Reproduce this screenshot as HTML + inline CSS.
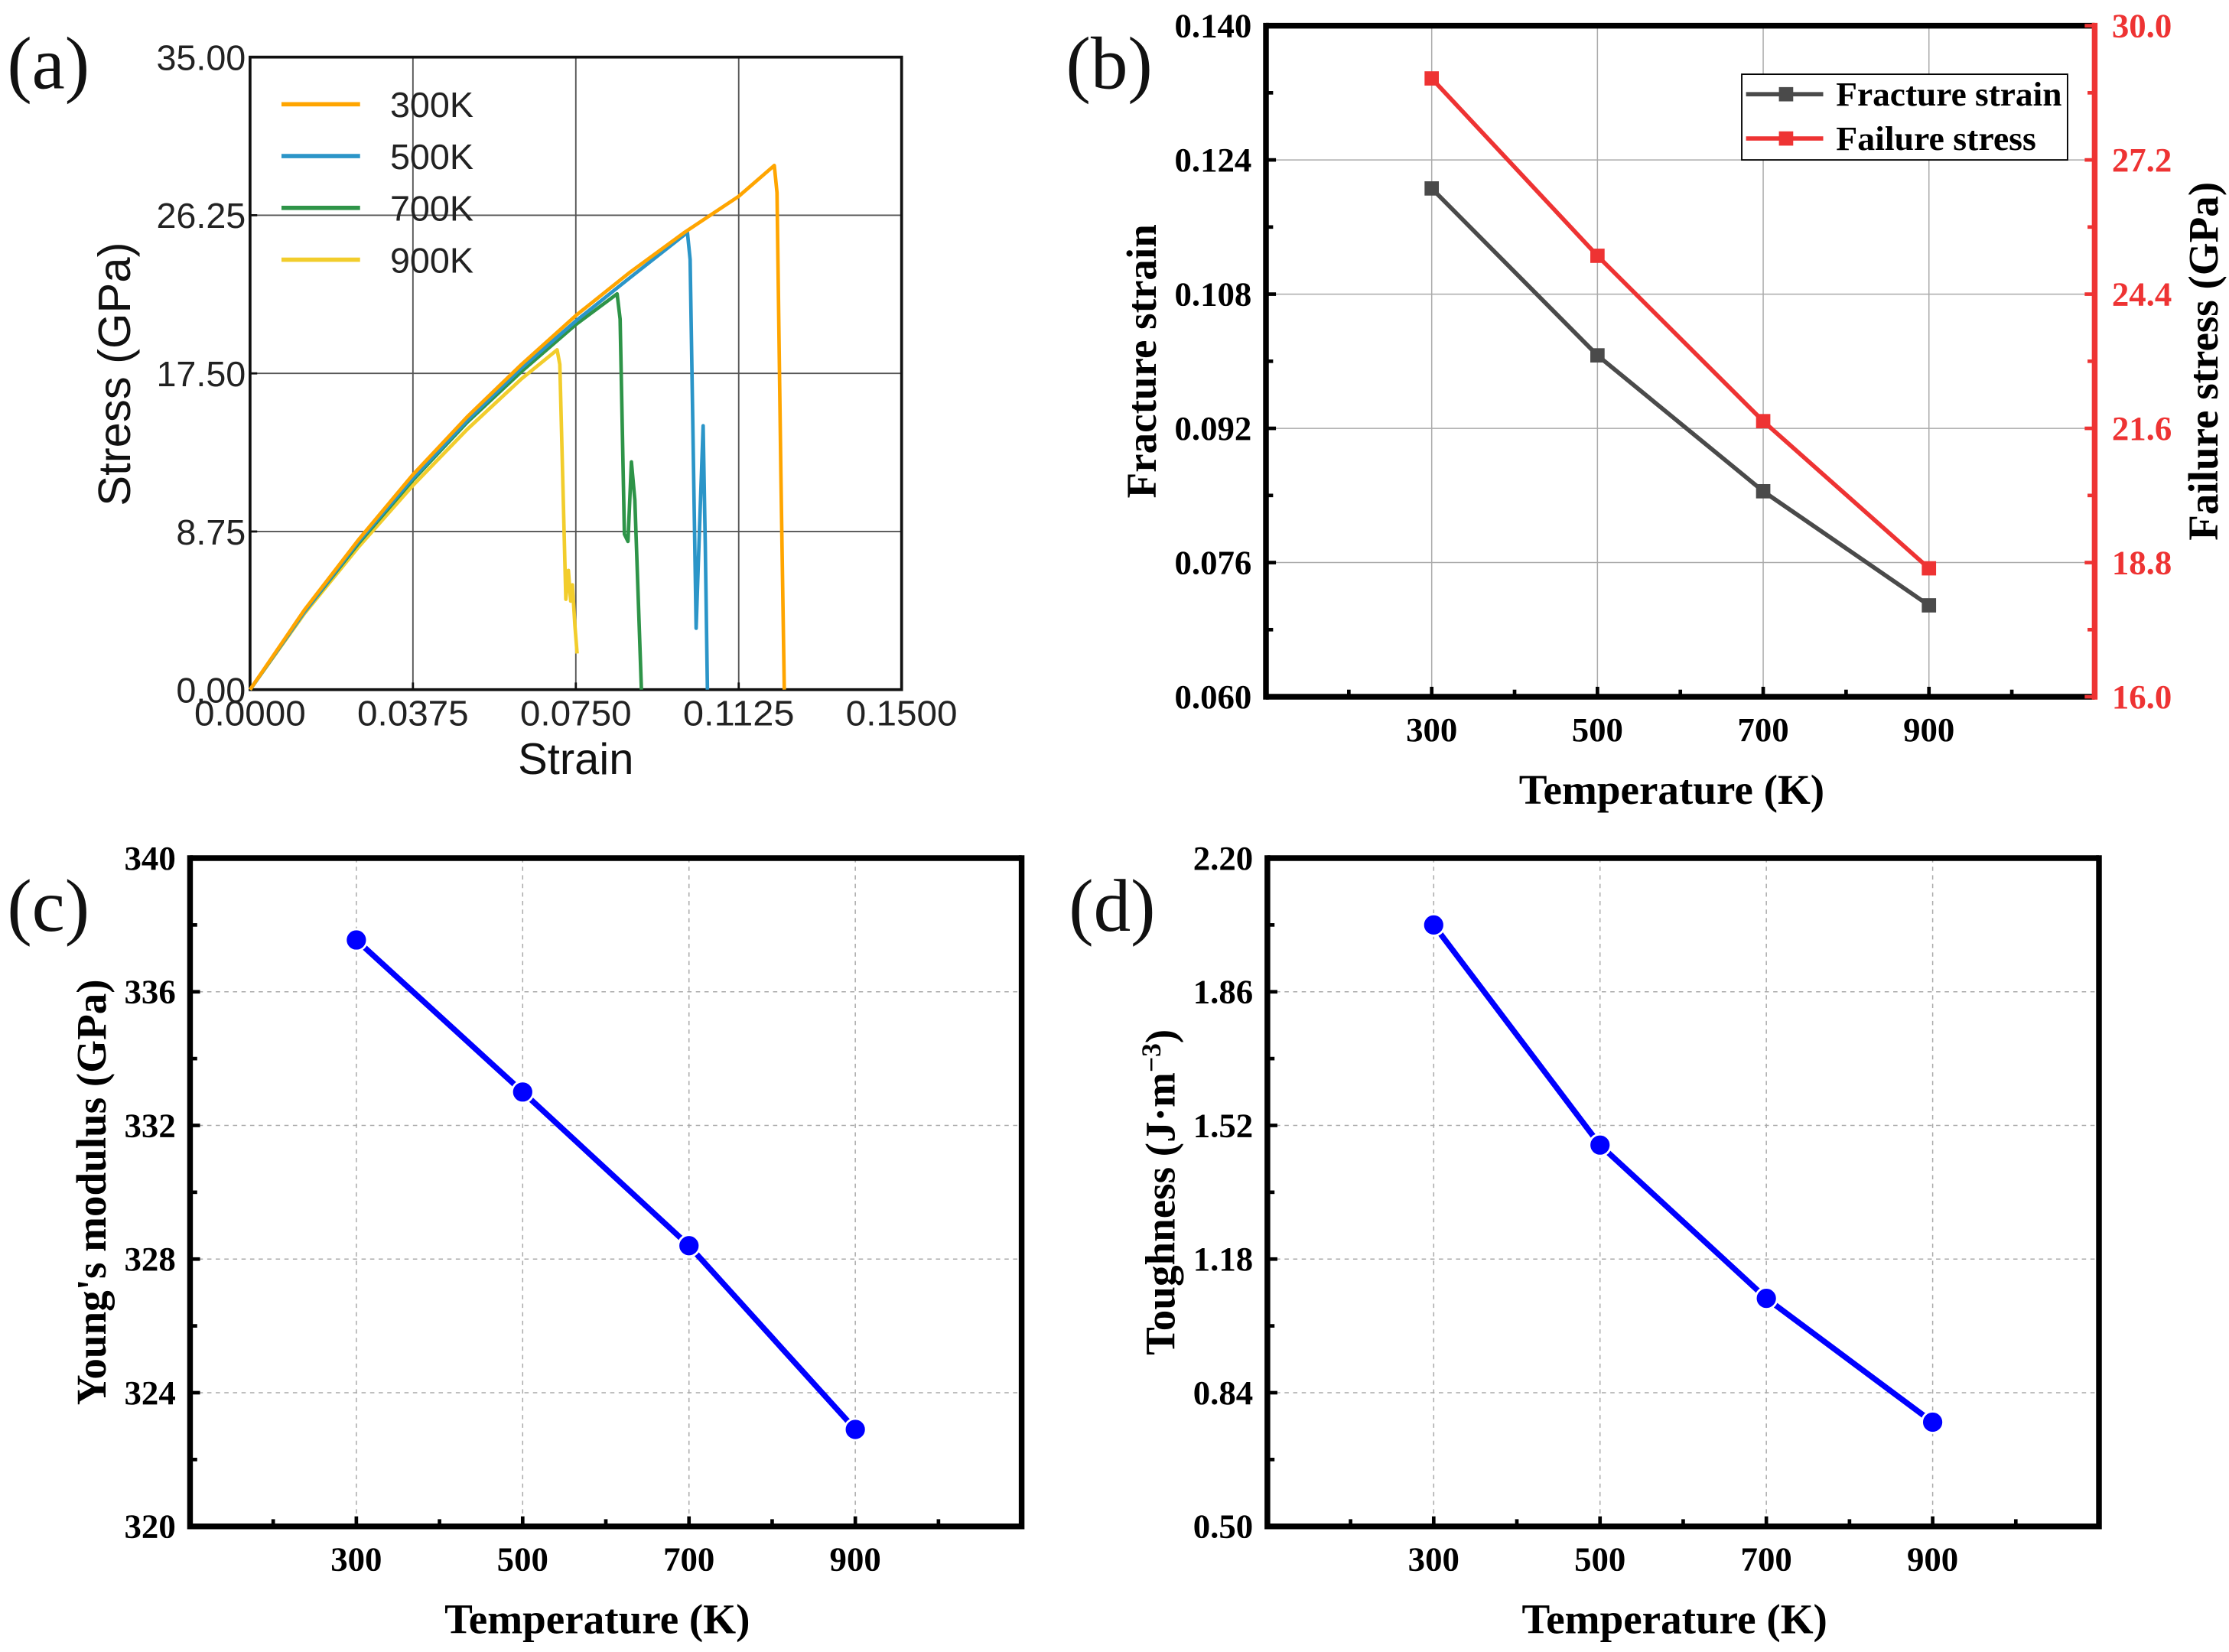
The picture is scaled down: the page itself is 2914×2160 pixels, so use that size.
<!DOCTYPE html>
<html><head><meta charset="utf-8"><style>
html,body{margin:0;padding:0;background:#fff}
svg{display:block}
</style></head><body>
<svg id="fig" xmlns="http://www.w3.org/2000/svg" width="2914" height="2160" viewBox="0 0 1560 1157" preserveAspectRatio="none">
<rect width="1560" height="1157" fill="#fff"/>
</svg>
<script>
// ---------- Panel (a) data ----------
const aX300=[0,0.0125,0.025,0.0375,0.05,0.0625,0.075,0.0875,0.1,0.1125,0.1207,0.1213,0.1222,0.1230];
const aY300=[0,4.4,8.3,11.9,15.1,18.0,20.7,23.1,25.3,27.3,29.0,27.5,12.0,0];
const aX500=[0,0.0125,0.025,0.0375,0.05,0.0625,0.075,0.0875,0.1007,0.1013,0.1027,0.1035,0.1043,0.1048,0.1053];
const aY500=[0,4.3,8.2,11.7,14.9,17.8,20.4,22.8,25.3,23.8,3.4,9,14.6,8,0];
const aX700=[0,0.0125,0.025,0.0375,0.05,0.0625,0.075,0.0845,0.0852,0.0862,0.0870,0.0878,0.0886,0.0901];
const aY700=[0,4.3,8.1,11.6,14.8,17.6,20.2,21.9,20.5,8.6,8.2,12.6,10.5,0];
const aX900=[0,0.0125,0.025,0.0375,0.05,0.0625,0.0707,0.0713,0.0727,0.0733,0.0738,0.0742,0.0748,0.0753];
const aY900=[0,4.2,7.9,11.3,14.4,17.2,18.8,18.0,5.0,6.6,4.9,5.8,3.5,2.0];
const aTicksX=["0.0000","0.0375","0.0750","0.1125","0.1500"];
const aTicksY=["0.00","8.75","17.50","26.25","35.00"];
const aLegend=["300K","500K","700K","900K"];
// ---------- Panel (b) data ----------
const temps=[300,500,700,900];
const fracStrain=[0.1206,0.1007,0.0845,0.0709];
const failStress=[28.9,25.2,21.75,18.68];
const bTicksL=["0.060","0.076","0.092","0.108","0.124","0.140"];
const bTicksR=["16.0","18.8","21.6","24.4","27.2","30.0"];
const xTickLabels=["300","500","700","900"];
// ---------- Panel (c) data ----------
const youngs=[337.55,333.0,328.4,322.9];
const cTicks=["320","324","328","332","336","340"];
// ---------- Panel (d) data ----------
const tough=[2.03,1.47,1.08,0.765];
const dTicks=["0.50","0.84","1.18","1.52","1.86","2.20"];

const svg=document.getElementById('fig');
const NS="http://www.w3.org/2000/svg";
function mk(tag,attrs,parent,text){const e=document.createElementNS(NS,tag);for(const k in attrs)e.setAttribute(k,attrs[k]);if(text!==undefined)e.textContent=text;(parent||svg).appendChild(e);return e;}
function lin(d0,d1,r0,r1){return v=>r0+(v-d0)/(d1-d0)*(r1-r0);}
const SERIF='"Liberation Serif", serif', SANS='"Liberation Sans", sans-serif';
const TICK=24, TITLE=29.5, PL=52;

// ===== Panel (a) =====
{
const g=mk('g',{});


const L=175,R=631,T=40,B=483;
const sx=lin(0,0.15,L,R), sy=lin(0,35,B,T);
for(let i=1;i<4;i++){const x=sx(0.0375*i);const l=mk('line',{x1:x,x2:x,y1:T,y2:B,stroke:'#555','stroke-width':1},g);}
for(let i=1;i<4;i++){const y=sy(8.75*i);const l=mk('line',{x1:L,x2:R,y1:y,y2:y,stroke:'#555','stroke-width':1},g);}
const fr=mk('rect',{x:L,y:T,width:R-L,height:B-T,fill:'none',stroke:'#111','stroke-width':2},g);
aTicksX.forEach((t,i)=>{const v=parseFloat(t);const x=sx(v);mk('line',{x1:x,x2:x,y1:B,y2:B-5,stroke:'#111','stroke-width':1.5},g);const tx=mk('text',{x:x,y:B+25,'font-family':SANS,'font-size':25,'text-anchor':'middle',fill:'#222',textLength:78,lengthAdjust:'spacingAndGlyphs'},g,t);});
aTicksY.forEach((t,i)=>{const v=parseFloat(t);const y=sy(v);mk('line',{x1:L,x2:L+5,y1:y,y2:y,stroke:'#111','stroke-width':1.5},g);const tx=mk('text',{x:L-3,y:y+9,'font-family':SANS,'font-size':25,'text-anchor':'end',fill:'#222'},g,t);});
const series=[[aX300,aY300,'#FFA500'],[aX500,aY500,'#2B95C8'],[aX700,aY700,'#2E9448'],[aX900,aY900,'#F2CD2C']];
series.slice().reverse().forEach((s,j)=>{const pts=s[0].map((v,i)=>sx(v).toFixed(1)+','+sy(s[1][i]).toFixed(1)).join(' ');const p=mk('polyline',{points:pts,fill:'none',stroke:s[2],'stroke-width':2.5,'stroke-linejoin':'round'},g);});
aLegend.forEach((n,i)=>{const y=73+i*36.3;const l=mk('line',{x1:197,x2:252,y1:y,y2:y,stroke:series[i][2],'stroke-width':3},g);const t=mk('text',{x:273,y:y+9,'font-family':SANS,'font-size':25,fill:'#222'},g,n);});
const xt=mk('text',{x:403,y:542,'font-family':SANS,'font-size':31,'text-anchor':'middle',fill:'#111'},g,'Strain');
const yt=mk('text',{x:0,y:0,transform:'translate(91,262) rotate(-90)','font-family':SANS,'font-size':32,'text-anchor':'middle',fill:'#111'},g,'Stress (GPa)');
const pl=mk('text',{x:5,y:62,'font-family':SERIF,'font-size':PL,fill:'#111'},g,'(a)');
}

// ===== generic origin-style panel =====
function panel(opts){
const g=mk('g',{});


const {L,R,T,B}=opts;
const sx=lin(100,1100,L,R);
const ticks=opts.yTicks.map(parseFloat);
const sy=lin(ticks[0],ticks[ticks.length-1],B,T);
temps.forEach(t=>{const x=sx(t);const l=mk('line',{x1:x,x2:x,y1:T,y2:B,stroke:'#aaa','stroke-width':0.8,'stroke-dasharray':opts.dash||'none'},g);});
ticks.slice(1,-1).forEach(v=>{const y=sy(v);const l=mk('line',{x1:L,x2:R,y1:y,y2:y,stroke:'#aaa','stroke-width':0.8,'stroke-dasharray':opts.dash||'none'},g);});
mk('line',{x1:L,x2:R,y1:T,y2:T,stroke:'#000','stroke-width':4},g);
mk('line',{x1:L,x2:R,y1:B,y2:B,stroke:'#000','stroke-width':4},g);
mk('line',{x1:L,x2:L,y1:T-2,y2:B+2,stroke:'#000','stroke-width':4},g);
mk('line',{x1:R,x2:R,y1:T-2,y2:B+2,stroke:opts.rightColor||'#000','stroke-width':4},g);
for(let v=200;v<=1000;v+=100){const x=sx(v);mk('line',{x1:x,x2:x,y1:B,y2:B-(v%200===100?7:5),stroke:'#000','stroke-width':2.5},g);}
opts.xLabels.forEach((t,i)=>{const tx=mk('text',{x:sx(temps[i]),y:B+31,'font-family':SERIF,'font-weight':'bold','font-size':TICK,'text-anchor':'middle',fill:'#000'},g,t);});
for(let i=0;i<ticks.length;i++){const y=sy(ticks[i]);mk('line',{x1:L,x2:L+7,y1:y,y2:y,stroke:'#000','stroke-width':2.5},g);if(i<ticks.length-1){const ym=sy((ticks[i]+ticks[i+1])/2);mk('line',{x1:L,x2:L+5,y1:ym,y2:ym,stroke:'#000','stroke-width':2.5},g);}
const tx=mk('text',{x:L-10,y:y+8,'font-family':SERIF,'font-weight':'bold','font-size':TICK,'text-anchor':'end',fill:'#000'},g,opts.yTicks[i]);}
const xt=mk('text',{x:(L+R)/2-6,y:B+75,'font-family':SERIF,'font-weight':'bold','font-size':TITLE,'text-anchor':'middle',fill:'#000'},g,'Temperature (K)');
const yt=mk('text',{x:0,y:0,transform:`translate(${opts.yTitleX},${(T+B)/2}) rotate(-90)`,'font-family':SERIF,'font-weight':'bold','font-size':TITLE,'text-anchor':'middle',fill:'#000'},g);

if(opts.yTitleHtml){opts.yTitleHtml(yt);}else yt.textContent=opts.yTitle;
const pl=mk('text',{x:opts.labelX,y:opts.labelY,'font-family':SERIF,'font-size':PL,fill:'#111'},g,opts.label);
return {g,sx,sy};
}

// ===== Panel (b) =====
{
const L=886,R=1466,T=18,B=488;
const {g,sx,sy}=panel({name:'panel-b',L,R,T,B,yTicks:bTicksL,xLabels:xTickLabels,yTitle:'Fracture strain',yTitleX:809,label:'(b)',labelX:746,labelY:62,rightColor:'#EE3333'});
const sr=lin(16,30,B,T);
for(let i=0;i<bTicksR.length;i++){const v=parseFloat(bTicksR[i]);const y=sr(v);mk('line',{x1:R,x2:R-7,y1:y,y2:y,stroke:'#EE3333','stroke-width':2.5},g);if(i<bTicksR.length-1){const ym=sr(v+1.4);mk('line',{x1:R,x2:R-5,y1:ym,y2:ym,stroke:'#EE3333','stroke-width':2.5},g);}
const tx=mk('text',{x:R+12,y:y+8,'font-family':SERIF,'font-weight':'bold','font-size':TICK,'text-anchor':'start',fill:'#EE3333'},g,bTicksR[i]);}
const rt=mk('text',{x:0,y:0,transform:`translate(1552,${(T+B)/2}) rotate(-90)`,'font-family':SERIF,'font-weight':'bold','font-size':TITLE,'text-anchor':'middle',fill:'#000'},g,'Failure stress (GPa)');
const p1=mk('polyline',{points:temps.map((t,i)=>sx(t)+','+sy(fracStrain[i])).join(' '),fill:'none',stroke:'#4A4A4A','stroke-width':3},g);
temps.forEach((t,i)=>{const r=mk('rect',{x:sx(t)-5,y:sy(fracStrain[i])-5,width:10,height:10,fill:'#4A4A4A'},g);});
const p2=mk('polyline',{points:temps.map((t,i)=>sx(t)+','+sr(failStress[i])).join(' '),fill:'none',stroke:'#EE3333','stroke-width':3},g);
temps.forEach((t,i)=>{const r=mk('rect',{x:sx(t)-5,y:sr(failStress[i])-5,width:10,height:10,fill:'#EE3333'},g);});
const lg=mk('g',{},g);
mk('rect',{x:1219,y:52,width:228,height:60,fill:'#fff',stroke:'#000','stroke-width':1},lg);
mk('line',{x1:1222,x2:1276,y1:66,y2:66,stroke:'#4A4A4A','stroke-width':3},lg);mk('rect',{x:1245,y:61,width:10,height:10,fill:'#4A4A4A'},lg);
const t1=mk('text',{x:1285,y:74,'font-family':SERIF,'font-weight':'bold','font-size':24,fill:'#000',textLength:158,lengthAdjust:'spacingAndGlyphs'},lg,'Fracture strain');
mk('line',{x1:1222,x2:1276,y1:97,y2:97,stroke:'#EE3333','stroke-width':3},lg);mk('rect',{x:1245,y:92,width:10,height:10,fill:'#EE3333'},lg);
const t2=mk('text',{x:1285,y:105,'font-family':SERIF,'font-weight':'bold','font-size':24,fill:'#000',textLength:140,lengthAdjust:'spacingAndGlyphs'},lg,'Failure stress');
}

// ===== Panel (c) =====
{
const {g,sx,sy}=panel({name:'panel-c',L:133,R:715,T:601,B:1069,yTicks:cTicks,xLabels:xTickLabels,yTitle:"Young's modulus (GPa)",yTitleX:74,label:'(c)',labelX:5,labelY:652,dash:'3,3'});
const p=mk('polyline',{points:temps.map((t,i)=>sx(t)+','+sy(youngs[i])).join(' '),fill:'none',stroke:'#0000FF','stroke-width':4},g);
temps.forEach((t,i)=>{const c=mk('circle',{cx:sx(t),cy:sy(youngs[i]),r:7.5,fill:'#0000FF',stroke:'#fff','stroke-width':1.5},g);});
}

// ===== Panel (d) =====
{
const {g,sx,sy}=panel({name:'panel-d',L:887,R:1469,T:601,B:1069,yTicks:dTicks,xLabels:xTickLabels,yTitle:'',yTitleX:822,label:'(d)',labelX:748,labelY:652,dash:'3,3',
 yTitleHtml:(el)=>{el.textContent='Toughness (J\u00B7m';const s=mk('tspan',{dy:-10,'font-size':19},el,'\u22123');const s2=mk('tspan',{dy:10},el,')');}});
const p=mk('polyline',{points:temps.map((t,i)=>sx(t)+','+sy(tough[i])).join(' '),fill:'none',stroke:'#0000FF','stroke-width':4},g);
temps.forEach((t,i)=>{const c=mk('circle',{cx:sx(t),cy:sy(tough[i]),r:7.5,fill:'#0000FF',stroke:'#fff','stroke-width':1.5},g);});
}
</script>
</body></html>
